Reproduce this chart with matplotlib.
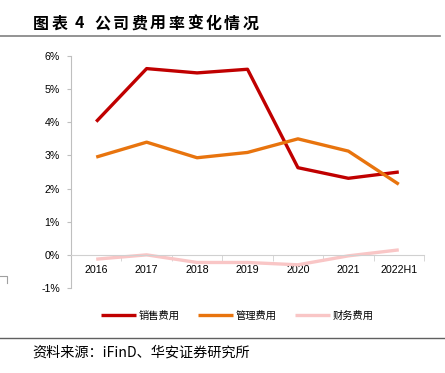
import matplotlib
matplotlib.use("Agg")
import matplotlib.pyplot as plt
from matplotlib.lines import Line2D
from matplotlib.ticker import FuncFormatter, FixedLocator

plt.rcParams['font.family'] = ['Liberation Sans', 'Noto Sans CJK SC', 'DejaVu Sans']

# data (% of revenue)
years = ["2016", "2017", "2018", "2019", "2020", "2021", "2022H1"]
sales_exp = [4.02, 5.62, 5.49, 5.60, 2.63, 2.31, 2.50]
admin_exp = [2.95, 3.40, 2.93, 3.09, 3.50, 3.13, 2.13]
fin_exp = [-0.13, 0.00, -0.23, -0.23, -0.30, -0.03, 0.15]

names = ["销售费用", "管理费用", "财务费用"]
colors = ["#C00000", "#E8740E", "#F9C6C6"]

W, H = 445, 373
fig = plt.figure(figsize=(W / 100, H / 100), dpi=100)

# plot area
x0, x1 = 71, 424
y_top, y_bot = 56, 288
ax = fig.add_axes([x0 / W, 1 - y_bot / H, (x1 - x0) / W, (y_bot - y_top) / H])

xs = list(range(len(years)))
for vals, c, n in zip([sales_exp, admin_exp, fin_exp], colors, names):
    ax.plot(xs, vals, color=c, lw=2.4, label=n, solid_capstyle='butt')

ax.set_xlim(-0.5, len(years) - 0.5)
ax.set_ylim(-1, 6)
ax.set_yticks(range(-1, 7))
ax.yaxis.set_major_formatter(FuncFormatter(lambda v, p: f"{int(v)}%"))

ax.spines['top'].set_visible(False)
ax.spines['right'].set_visible(False)
ax.spines['left'].set_color('#BFBFBF')
ax.spines['bottom'].set_color('#D0D0D0')
ax.spines['bottom'].set_position(('data', 0))

ax.set_xticks(xs)
ax.set_xticklabels(years)
ax.xaxis.set_minor_locator(FixedLocator([i + 0.5 for i in range(-1, len(years))]))
ax.tick_params(axis='x', which='major', length=0, pad=7, labelsize=7.7, colors='black')
ax.tick_params(axis='x', which='minor', length=4, color='#D0D0D0')
ax.tick_params(axis='y', length=3, color='#BFBFBF', labelsize=7.7, pad=5)

# legend
leg_cx = (237.5 - x0) / (x1 - x0)
leg_cy = (y_bot - 316) / (y_bot - y_top)
ax.legend(loc='center', bbox_to_anchor=(leg_cx, leg_cy), ncol=3, frameon=False,
          handlelength=3.4, handletextpad=0.3, columnspacing=1.75, borderpad=0,
          prop={'family': ['Noto Sans CJK SC'], 'size': 7.4})

# title, spaced out like the reference
title_chars = ["图", "表", "4", "公", "司", "费", "用", "率", "变", "化", "情", "况"]
title_x = [33, 52, 75, 94, 112.6, 131.2, 149.8, 168.4, 187, 205.6, 224.2, 242.8]
for ch, px in zip(title_chars, title_x):
    fig.text(px / W, 1 - 23.5 / H, ch, fontsize=11.5, fontweight='bold',
             va='center', ha='left', family=['Noto Sans CJK SC', 'DejaVu Sans'])

fig.add_artist(Line2D([0, 440 / W], [1 - 35.5 / H, 1 - 35.5 / H], color='#808080', lw=1.2))
fig.add_artist(Line2D([0, 1], [1 - 338 / H, 1 - 338 / H], color='#606060', lw=1.0))
fig.text(32 / W, 1 - 353 / H, "资料来源：iFinD、华安证券研究所", fontsize=10.2,
         va='center', ha='left', family=['Noto Sans CJK SC', 'DejaVu Sans'])

# small bracket on the left edge
fig.add_artist(Line2D([0, 7 / W, 7 / W], [1 - 276 / H, 1 - 276 / H, 1 - 283 / H],
                      color='#A0A0A0', lw=0.8))

fig.savefig("out.png", dpi=100)
